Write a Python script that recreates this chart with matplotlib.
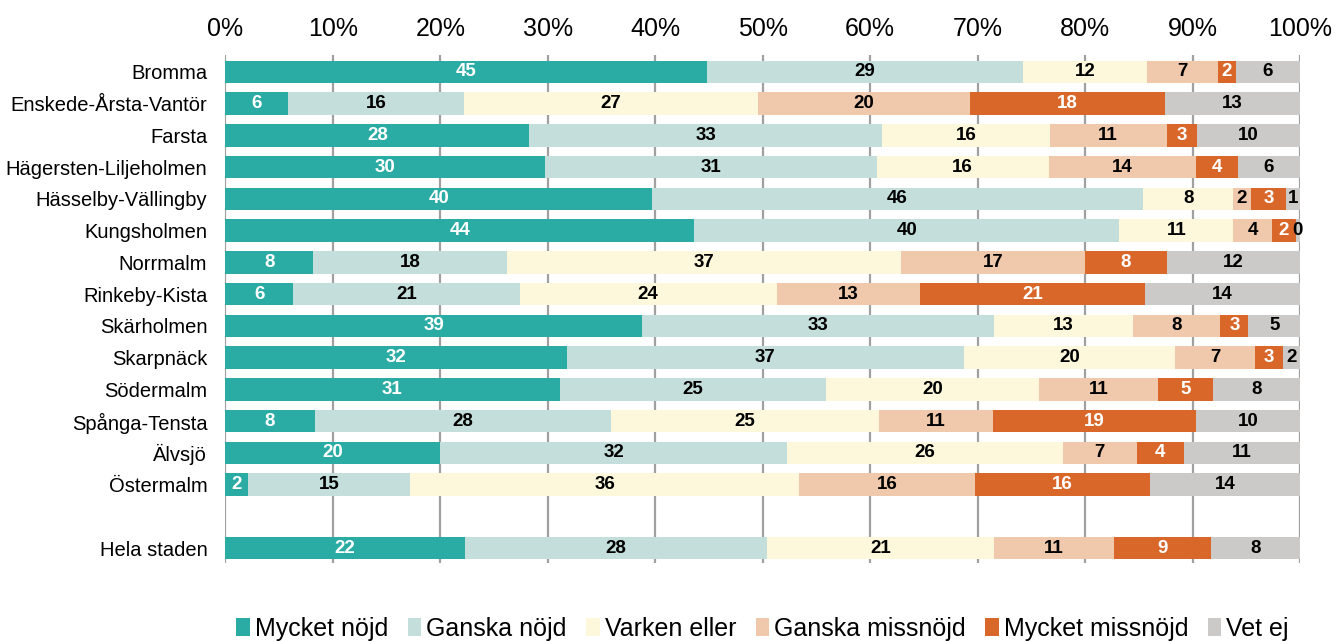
import numpy as np
import matplotlib
matplotlib.use('Agg')
import matplotlib.pyplot as plt
from matplotlib.patches import Patch

plt.rcParams['font.family'] = ['Liberation Sans', 'DejaVu Sans']

# districts (top to bottom), empty slot before the city total
districts = ['Bromma', 'Enskede-Årsta-Vantör', 'Farsta', 'Hägersten-Liljeholmen',
             'Hässelby-Vällingby', 'Kungsholmen', 'Norrmalm', 'Rinkeby-Kista',
             'Skärholmen', 'Skarpnäck', 'Södermalm', 'Spånga-Tensta', 'Älvsjö',
             'Östermalm', '', 'Hela staden']

categories = ['Mycket nöjd', 'Ganska nöjd', 'Varken eller',
              'Ganska missnöjd', 'Mycket missnöjd', 'Vet ej']

# percent per category, same order as districts (None = gap row)
mycket_nojd = [44.8, 5.8, 28.3, 29.7, 39.7, 43.6, 8.2, 6.3, 38.8, 31.8, 31.1, 8.3, 20.0, 2.1, None, 22.3]
ganska_nojd = [29.4, 16.4, 32.8, 30.9, 45.7, 39.6, 18.0, 21.1, 32.7, 36.9, 24.8, 27.6, 32.3, 15.1, None, 28.1]
varken_eller = [11.6, 27.4, 15.6, 16.0, 8.4, 10.6, 36.7, 23.9, 13.0, 19.7, 19.8, 24.9, 25.6, 36.2, None, 21.1]
ganska_missnojd = [6.6, 19.7, 10.9, 13.7, 1.6, 3.6, 17.1, 13.3, 8.1, 7.4, 11.1, 10.6, 6.9, 16.4, None, 11.2]
mycket_missnojd = [1.6, 18.1, 2.8, 3.9, 3.3, 2.2, 7.6, 21.0, 2.6, 2.6, 5.1, 18.9, 4.4, 16.2, None, 9.0]
vet_ej = [6.0, 12.6, 9.6, 5.8, 1.3, 0.4, 12.4, 14.4, 4.8, 1.6, 8.1, 9.7, 10.8, 14.0, None, 8.3]

series = [mycket_nojd, ganska_nojd, varken_eller, ganska_missnojd, mycket_missnojd, vet_ej]
colors = ['#2AABA3', '#C4DFDB', '#FDF8DB', '#F0C9AC', '#D9672A', '#CBCAC8']
text_colors = ['white', 'black', 'black', 'black', 'white', 'black']

fig = plt.figure(figsize=(13.35, 6.41), dpi=100)
ax = fig.add_axes([0.1688, 0.1217, 0.8050, 0.7925])

y = np.arange(len(districts))
left = np.zeros(len(districts))
for vals, col, tcol in zip(series, colors, text_colors):
    w = np.array([np.nan if v is None else v for v in vals])
    ax.barh(y, np.nan_to_num(w), left=left, height=0.71, color=col, zorder=2)
    for yi, (l, v) in enumerate(zip(left, w)):
        if np.isnan(v):
            continue
        ax.text(l + v / 2, yi, f'{v:.0f}', ha='center', va='center',
                color=tcol, fontsize=13.5, fontweight='bold', zorder=3)
    left = left + np.nan_to_num(w)

ax.set_xlim(0, 100)
ax.set_ylim(15.47, -0.53)
ax.set_xticks(np.arange(0, 101, 10))
ax.set_xticklabels([f'{t}%' for t in range(0, 101, 10)], fontsize=18)
ax.xaxis.tick_top()
ax.tick_params(axis='x', length=0, pad=10)
ax.set_yticks(y)
ax.set_yticklabels(districts, fontsize=14.5)
ax.tick_params(axis='y', length=0, pad=13)
ax.grid(axis='x', color='#A0A0A0', linewidth=1.6, zorder=0)
for s in ax.spines.values():
    s.set_visible(False)

handles = [Patch(facecolor=c, edgecolor='none') for c in colors]
fig.legend(handles, categories, loc='center', bbox_to_anchor=(0.5713, 0.019),
           ncol=6, frameon=False, fontsize=18, handlelength=0.55, handleheight=0.75,
           handletextpad=0.2, columnspacing=0.77, borderaxespad=0)

fig.savefig('out.png', dpi=100)
